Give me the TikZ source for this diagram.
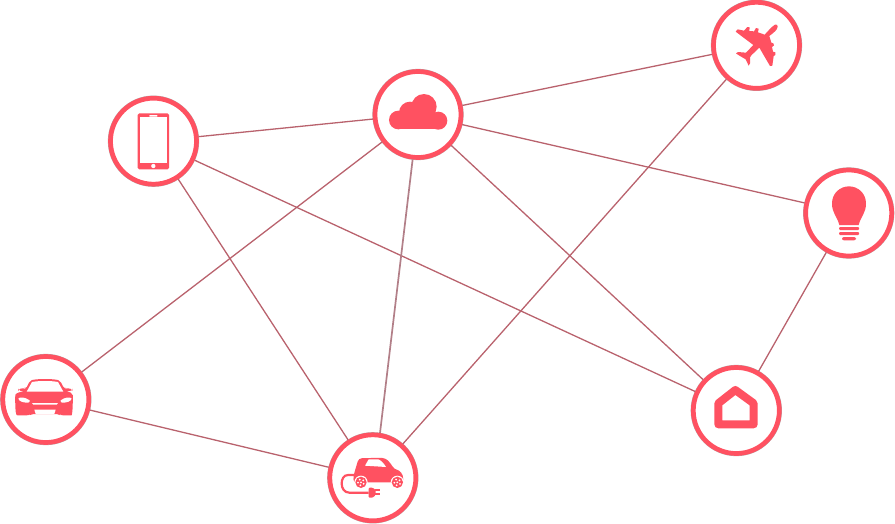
\documentclass[tikz,border=0pt]{standalone}
\definecolor{hub}{HTML}{FF5161}
\definecolor{wire}{HTML}{B9626D}
\definecolor{wiregrey}{HTML}{B27F88}
\tikzset{
  hubnode/.style={circle,draw=hub,fill=white,line width=4.7pt,minimum size=86pt,inner sep=0pt,
    preaction={draw=gray!60,line width=5.3pt}},
  wireline/.style={draw=wire,line width=1.3pt},
  greyline/.style={draw=wiregrey,line width=1.7pt},
  zoomed/.style={x=0.33333pt,y=-0.33333pt}
}
\begin{document}
\begin{tikzpicture}[x=1pt,y=-1pt]
\useasboundingbox (0,0) rectangle (895,523);
\node[hubnode] (phone) at (153.5,141.2) {};
\node[hubnode] (cloud) at (418,114.5) {};
\node[hubnode] (plane) at (756.5,45.3) {};
\node[hubnode] (bulb) at (848.7,213) {};
\node[hubnode] (home) at (736.3,410.5) {};
\node[hubnode] (car) at (45.8,399.5) {};
\node[hubnode] (ev) at (372.8,477.8) {};
\coordinate (evtop) at (380,433);
\foreach \a/\b in {phone/cloud,cloud/plane,cloud/bulb,cloud/home,cloud/car,phone/ev,phone/home,plane/ev,bulb/home,car/ev}
  \draw[wireline] (\a) -- (\b);
\draw[greyline] (cloud) -- (evtop);
% phone icon
\begin{scope}[shift={(100,60)},zoomed]
  \fill[hub,rounded corners=1.5pt] (113,160) rectangle (207,328);
  \fill[white] (120,172) rectangle (200,308);
  \fill[white] (160,318) circle (6.5);
  \fill[white,rounded corners=0.5pt] (148,165) rectangle (172,170);
  % cloud icon
  \fill[hub] (972,140) circle (38);
  \fill[hub] (930,158) circle (33);
  \fill[hub] (895,180) circle (28);
  \fill[hub] (1015,182) circle (27);
  \fill[hub] (895,170) rectangle (1015,208);
\end{scope}
% plane and bulb icons
\begin{scope}[shift={(700,0)},zoomed]
  \fill[hub] (233,80) .. controls (232,90) and (222,97) .. (208,108)
    -- (214,128) -- (220,130) -- (222,136) -- (216,141) -- (219,155) -- (226,157) -- (226,165) -- (221,168)
    -- (217,197) -- (210,198) -- (178,143) -- (155,165) -- (150,172) -- (150,190) -- (146,197)
    -- (137,178) -- (115,165) -- (108,160) -- (114,156) -- (138,158) -- (160,135)
    -- (107,95) -- (113,88) -- (132,92) -- (142,81) -- (149,82) -- (148,93) -- (162,94) -- (168,84) -- (176,86) -- (174,97)
    -- (194,104) .. controls (207,90) and (215,80) .. (225,74) .. controls (230,72) and (234,75) .. (233,80) -- cycle;
  \fill[hub] (418,675) .. controls (412,650) and (396,640) .. (396,610)
    .. controls (396,580) and (420,559) .. (447,559)
    .. controls (474,559) and (498,580) .. (498,610)
    .. controls (498,640) and (482,650) .. (476,675) -- cycle;
  \fill[hub,rounded corners=1pt] (417,681) rectangle (477,690);
  \fill[hub,rounded corners=1pt] (417,696) rectangle (477,705);
  \fill[hub,rounded corners=2pt] (426,711) rectangle (468,721);
\end{scope}
% car icon
\begin{scope}[shift={(0,350)},zoomed]
  \fill[hub,rounded corners=2pt] (45,140) .. controls (47,130) and (62,125) .. (75,123)
    -- (72,123) -- (55,122) -- (55,117) -- (75,114) -- (78,116)
    -- (90,92) .. controls (110,86) and (160,86) .. (180,92) -- (193,116) -- (197,114)
    -- (217,117) -- (217,122) -- (197,123) .. controls (208,125) and (218,130) .. (219,142)
    -- (217,190) .. controls (215,196) and (200,197) .. (180,195) -- (176,192) -- (95,192) -- (90,195)
    .. controls (70,197) and (50,196) .. (47,190) -- cycle;
  \fill[white] (80,125) -- (96,96) .. controls (115,92) and (155,92) .. (174,96) -- (190,125) -- cycle;
  \fill[white] (55,146) .. controls (58,140) and (75,141) .. (89,151) .. controls (90,155) and (88,158) .. (84,158) .. controls (70,158) and (58,155) .. (55,146) -- cycle;
  \fill[white] (215,146) .. controls (212,140) and (195,141) .. (182,151) .. controls (181,155) and (183,158) .. (187,158) .. controls (200,158) and (212,155) .. (215,146) -- cycle;
  \fill[white] (96,159) -- (174,159) -- (170,164) -- (100,164) -- cycle;
  \fill[white] (103,179) -- (167,179) -- (163,192) -- (107,192) -- cycle;
\end{scope}
% electric car icon
\begin{scope}[shift={(320,425)},zoomed]
  \fill[hub,rounded corners=3pt] (100,172) -- (101,150) -- (116,100) -- (188,98) .. controls (205,105) and (215,120) .. (222,132)
    .. controls (238,136) and (250,145) .. (250,172) -- cycle;
  \fill[white] (135,122) -- (146,103) -- (175,103) .. controls (185,107) and (192,116) .. (198,126) -- cycle;
  \foreach \w in {123,232}{
    \fill[white] (\w,172) circle (20);
    \fill[hub] (\w,172) circle (17);
    \fill[white] (\w,172) circle (3);
    \foreach \t in {30,102,...,320}
      \fill[white] (\w,172) ++(\t:9) circle (3);
  }
  \draw[hub,line width=2.2pt] (106,150) -- (84,150) .. controls (58,150) and (58,203) .. (88,203) -- (146,203);
  \fill[hub,rounded corners=1pt] (146,188) -- (158,188) -- (167,195) -- (167,210) -- (158,218) -- (146,218) -- cycle;
  \fill[hub] (165,193) rectangle (180,199);
  \fill[hub] (165,205) rectangle (180,211);
\end{scope}
% home icon
\begin{scope}[shift={(685,360)},zoomed]
  \draw[hub,line width=8pt,line join=round] (100,130) -- (151,90) -- (206,130) -- (206,193) -- (100,193) -- cycle;
\end{scope}
\end{tikzpicture}
\end{document}
